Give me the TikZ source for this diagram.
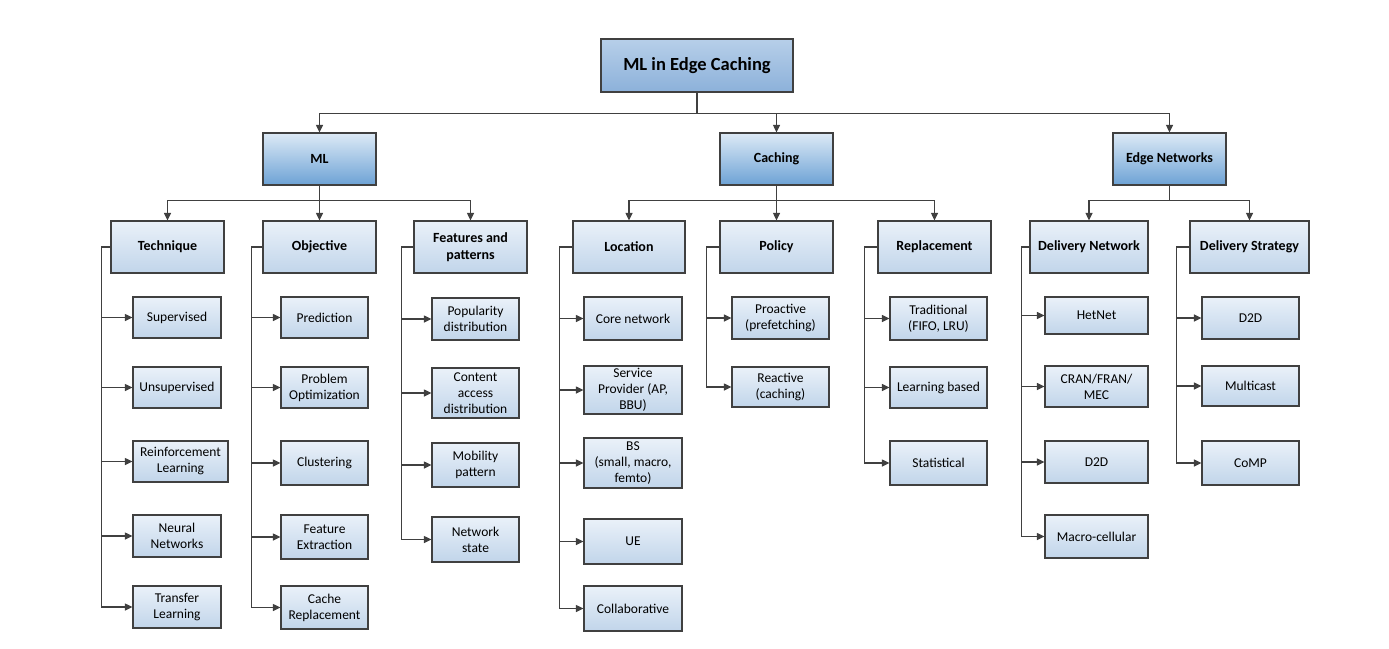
\documentclass[tikz,border=0pt]{standalone}
\usepackage{fontspec}
\setmainfont{Carlito}
\usetikzlibrary{shadows,arrows.meta}
\definecolor{ln}{HTML}{404040}
\definecolor{r1}{HTML}{B7CFE9}
\definecolor{r2}{HTML}{8CB1DA}
\definecolor{c1}{HTML}{DDEAF6}
\definecolor{c2}{HTML}{6DA2D5}
\definecolor{l1}{HTML}{EAF1F9}
\definecolor{l2}{HTML}{C1D5EA}
\tikzset{
  base/.style={draw=ln, line width=1.2pt, align=center, inner sep=0pt,
    drop shadow={shadow xshift=1.3pt, shadow yshift=-1.3pt, opacity=0.3, fill=black}},
  rootbox/.style={base, top color=r1, bottom color=r2,
    font=\fontsize{18.5}{22}\selectfont\bfseries, minimum width=192, minimum height=53},
  catbox/.style={base, top color=c1, bottom color=c2,
    font=\fontsize{14}{16.5}\selectfont\bfseries, minimum width=113, minimum height=52},
  subbox/.style={base, top color=l1, bottom color=l2,
    font=\fontsize{14}{16.5}\selectfont\bfseries, minimum width=113, minimum height=52},
  leaf/.style={base, top color=l1, bottom color=l2,
    font=\fontsize{13.5}{16}\selectfont, minimum width=88, minimum height=42},
  arr/.style={draw=ln, line width=1.2pt, -{Triangle[length=7.5pt,width=7pt]}},
}
\begin{document}
\begin{tikzpicture}[x=1pt,y=-1pt]
\useasboundingbox (0,0) rectangle (1389,648);
% root and categories
\node[rootbox] (root) at (697,65.5) {ML in Edge Caching};
\node[catbox] (ml) at (319.5,159) {ML};
\node[catbox] (cach) at (776.5,159) {Caching};
\node[catbox] (edge) at (1169.5,159) {Edge Networks};
% sub headers
\node[subbox] (tech) at (167.5,247) {Technique};
\node[subbox] (obj) at (319.5,247) {Objective};
\node[subbox] (feat) at (470.5,247) {Features and\\patterns};
\node[subbox, minimum width=112] (loc) at (629,247) {Location};
\node[subbox] (pol) at (776.5,247) {Policy};
\node[subbox] (rep) at (934.5,247) {Replacement};
\node[subbox, minimum width=118] (dn) at (1089,247) {Delivery Network};
\node[subbox, minimum width=119] (ds) at (1249.5,247) {Delivery Strategy};
% technique leaves
\node[leaf, minimum height=41] (sup) at (177,317.5) {Supervised};
\node[leaf, minimum height=41] (unsup) at (177,387.5) {Unsupervised};
\node[leaf, minimum width=95, minimum height=41] (rl) at (180.5,461.5) {Reinforcement\\Learning};
\node[leaf] (nn) at (177,536) {Neural\\Networks};
\node[leaf] (tl) at (177,607) {Transfer\\Learning};
% objective leaves
\node[leaf, minimum width=87, minimum height=41] (pred) at (324.5,317.5) {Prediction};
\node[leaf, minimum width=87, minimum height=41] (popt) at (324.5,387.5) {Problem\\Optimization};
\node[leaf, minimum width=87, minimum height=44] (clus) at (324.5,463) {Clustering};
\node[leaf, minimum width=87, minimum height=44] (fext) at (324.5,537) {Feature\\Extraction};
\node[leaf, minimum width=87, minimum height=43] (crep) at (324.5,607.5) {Cache\\Replacement};
% features leaves
\node[leaf, minimum width=87, minimum height=42] (pop) at (475.5,319) {Popularity\\distribution};
\node[leaf, minimum width=87, minimum height=50] (cad) at (475.5,393) {Content\\access\\distribution};
\node[leaf, minimum width=87, minimum height=44] (mob) at (475.5,465) {Mobility\\pattern};
\node[leaf, minimum width=87, minimum height=45] (nst) at (475.5,539.5) {Network\\state};
% location leaves
\node[leaf, minimum width=98, minimum height=43] (core) at (633,318.5) {Core network};
\node[leaf, minimum width=98, minimum height=48] (sp) at (633,390) {Service\\Provider (AP,\\BBU)};
\node[leaf, minimum width=98, minimum height=50] (bs) at (633,463) {BS\\(small, macro,\\femto)};
\node[leaf, minimum width=98, minimum height=45] (ue) at (633,541.5) {UE};
\node[leaf, minimum width=98, minimum height=45] (colb) at (633,608.5) {Collaborative};
% policy leaves
\node[leaf, minimum width=97] (pro) at (780.5,318) {Proactive\\(prefetching)};
\node[leaf, minimum width=97, minimum height=40] (rea) at (780.5,387) {Reactive\\(caching)};
% replacement leaves
\node[leaf, minimum width=97, minimum height=43] (trad) at (938.5,318.5) {Traditional\\(FIFO, LRU)};
\node[leaf, minimum width=97, minimum height=41] (lb) at (938.5,387.5) {Learning based};
\node[leaf, minimum width=97, minimum height=44] (stat) at (938.5,463) {Statistical};
% delivery network leaves
\node[leaf, minimum width=103, minimum height=37] (het) at (1096.5,315.5) {HetNet};
\node[leaf, minimum width=103, minimum height=41] (cran) at (1096.5,386.5) {CRAN/FRAN/\\MEC};
\node[leaf, minimum width=103] (dd) at (1096.5,462) {D2D};
\node[leaf, minimum width=103, minimum height=43] (mac) at (1096.5,536.5) {Macro-cellular};
% delivery strategy leaves
\node[leaf, minimum width=97] (dds) at (1250.5,318) {D2D};
\node[leaf, minimum width=97, minimum height=40] (mc) at (1250.5,386) {Multicast};
\node[leaf, minimum width=97, minimum height=44] (comp) at (1250.5,463) {CoMP};
% level 1 connectors
\foreach \c in {ml,cach,edge} \draw[arr] (root.south) -- ++(0,21) -| (\c.north);
% level 2 connectors
\foreach \c in {tech,obj,feat} \draw[arr] (ml.south) -- ++(0,15) -| (\c.north);
\foreach \c in {loc,pol,rep} \draw[arr] (cach.south) -- ++(0,15) -| (\c.north);
\foreach \c in {dn,ds} \draw[arr] (edge.south) -- ++(0,15) -| (\c.north);
% leaf connectors
\foreach \c in {sup,unsup,rl,nn,tl} \draw[arr] (tech.west) -- ++(-9,0) |- (\c);
\foreach \c in {pred,popt,clus,fext,crep} \draw[arr] (obj.west) -- ++(-11,0) |- (\c);
\foreach \c in {pop,cad,mob,nst} \draw[arr] (feat.west) -- ++(-12,0) |- (\c);
\foreach \c in {core,sp,bs,ue,colb} \draw[arr] (loc.west) -- ++(-13,0) |- (\c);
\foreach \c in {pro,rea} \draw[arr] (pol.west) -- ++(-13,0) |- (\c);
\foreach \c in {trad,lb,stat} \draw[arr] (rep.west) -- ++(-13,0) |- (\c);
\foreach \c in {het,cran,dd,mac} \draw[arr] (dn.west) -- ++(-8,0) |- (\c);
\foreach \c in {dds,mc,comp} \draw[arr] (ds.west) -- ++(-13,0) |- (\c);
\end{tikzpicture}
\end{document}
